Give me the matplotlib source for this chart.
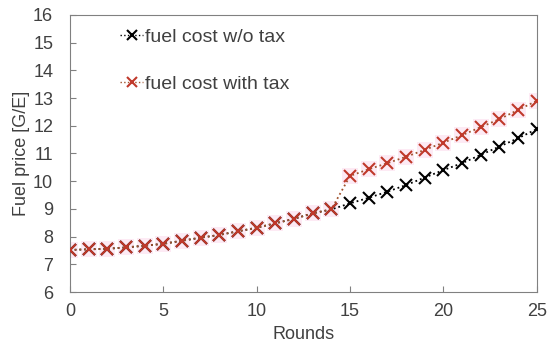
import matplotlib
matplotlib.use("Agg")
import matplotlib.pyplot as plt
from matplotlib.lines import Line2D

rounds = list(range(26))
cost_no_tax = [7.52, 7.54, 7.56, 7.61, 7.67, 7.74, 7.85, 7.96, 8.06, 8.19,
               8.32, 8.48, 8.64, 8.84, 8.98, 9.20, 9.40, 9.62, 9.86, 10.13,
               10.40, 10.65, 10.95, 11.25, 11.55, 11.88]
cost_tax = [7.52, 7.54, 7.56, 7.61, 7.67, 7.74, 7.85, 7.96, 8.06, 8.19,
            8.32, 8.48, 8.64, 8.84, 8.98, 10.19, 10.43, 10.65, 10.88, 11.13,
            11.39, 11.66, 11.95, 12.24, 12.57, 12.90]
labels = ["fuel cost w/o tax", "fuel cost with tax"]

plt.rcParams['font.family'] = ['Liberation Sans', 'DejaVu Sans']
txt = '#404040'
fig = plt.figure(figsize=(5.5, 3.46), dpi=100)
ax = fig.add_axes([0.127, 0.156, 0.849, 0.801])

ax.plot(rounds, cost_no_tax, linestyle=':', color='black', marker='x',
        markersize=8, markeredgewidth=1.5, linewidth=1.3, label=labels[0], zorder=3)
# pink highlight behind tax markers
ax.plot(rounds, cost_tax, linestyle='none', marker='s', markersize=11,
        color='#fdeaf4', markeredgewidth=0, zorder=2)
ax.plot(rounds, cost_tax, linestyle=':', color='#a0522d', marker='x',
        markersize=8, markeredgewidth=1.5, markeredgecolor='#c0392b',
        linewidth=1.3, label=labels[1], zorder=4)

ax.set_xlim(0, 25)
ax.set_ylim(6, 16)
ax.set_xticks([0, 5, 10, 15, 20, 25])
ax.set_yticks(range(6, 17))
ax.tick_params(direction='in', length=4, color='#808080', labelcolor=txt,
               labelsize=13)
ax.tick_params(axis='y', pad=12)
ax.tick_params(axis='x', pad=8)
for s in ax.spines.values():
    s.set_color('#808080')
ax.set_xlabel("Rounds", fontsize=13, color=txt, labelpad=4)
ax.set_ylabel("Fuel price [G/E]", fontsize=13, color=txt, labelpad=2)

h1 = Line2D([], [], linestyle=':', color='black', marker='x', markersize=7,
            markeredgewidth=1.5, linewidth=1.0)
h2 = Line2D([], [], linestyle=':', color='#a0522d', marker='x', markersize=7,
            markeredgewidth=1.5, markeredgecolor='#c0392b', linewidth=1.0)
leg = ax.legend([h1, h2], labels, loc='upper left', bbox_to_anchor=(0.07, 1.015),
                frameon=False, fontsize=14, labelspacing=1.5, handlelength=1.2,
                handletextpad=0.1, labelcolor=txt)

fig.savefig("out.png", dpi=100)
